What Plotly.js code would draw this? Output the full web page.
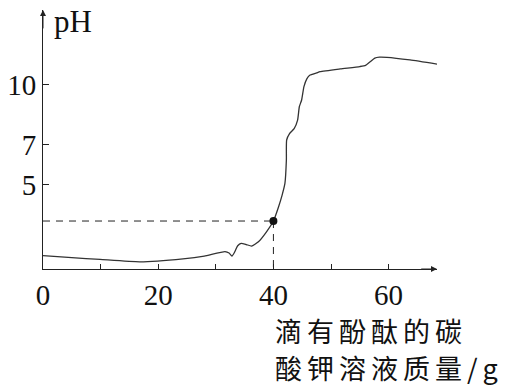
<!DOCTYPE html>
<html>
<head>
<meta charset="utf-8">
<script src="https://cdn.plot.ly/plotly-3.0.1.min.js"></script>
<style>
html,body{margin:0;padding:0;background:#fff;}
#chart{width:508px;height:391px;}
.annotation[data-index="3"] text,.annotation[data-index="4"] text{letter-spacing:5px;}
</style>
</head>
<body>
<div id="chart"></div>
<script>
// pH curve
const massX = [0, 5, 9.9, 16.8, 24.3, 28, 31.6, 32.3, 32.8, 33.3, 33.8, 34.4, 35.3, 36.2, 37.4, 38.8, 40.0, 40.9, 41.5, 42.0, 42.25, 42.3, 42.8, 43.6, 44.2, 44.5, 44.9, 45.3, 45.8, 46.3, 47.5, 48.1, 51.6, 55.0, 56.0, 56.8, 57.6, 58.4, 59.7, 63.7, 68.4];
const phY   = [1.42, 1.32, 1.23, 1.11, 1.26, 1.40, 1.62, 1.55, 1.40, 1.62, 1.92, 2.04, 1.98, 1.90, 2.12, 2.62, 3.16, 3.88, 4.45, 5.05, 6.22, 7.23, 7.55, 7.8, 8.23, 8.90, 9.24, 9.91, 10.3, 10.48, 10.6, 10.66, 10.8, 10.92, 10.98, 11.16, 11.34, 11.39, 11.38, 11.25, 11.04];
const markX = [40];
const markY = [3.16];
const xTickVals = [0, 10, 20, 30, 40, 50, 60];
const xTickText = ['0', '', '20', '', '40', '', '60'];
const yTickVals = [5, 7, 10];
const yTickText = ['5', '7', '10'];
const xTitleLines = ['滴有酚酞的碳', '酸钾溶液质量/g'];
const yTitle = 'pH';

const xRange = [0, 68.4];
const yRange = [0.75, 13.76];

const traces = [
  {x: massX, y: phY, type: 'scatter', mode: 'lines',
   line: {color: '#333', width: 1.3, shape: 'spline', smoothing: 0.5}, hoverinfo: 'none'},
  {x: [xRange[0], markX[0]], y: [markY[0], markY[0]], type: 'scatter', mode: 'lines',
   line: {color: '#222', width: 1, dash: '7px,6px'}, hoverinfo: 'none'},
  {x: [markX[0], markX[0]], y: [markY[0], yRange[0]], type: 'scatter', mode: 'lines',
   line: {color: '#222', width: 1, dash: '7px,6px'}, hoverinfo: 'none'},
  {x: markX, y: markY, type: 'scatter', mode: 'markers',
   marker: {color: '#111', size: 8}, hoverinfo: 'none'}
];

const serif = 'Liberation Serif';
const tickFont = {family: serif, size: 29, color: '#111'};
const cjkFont = {family: 'Noto Sans CJK SC', size: 27, color: '#111'};

const layout = {
  width: 508, height: 391,
  margin: {l: 43, r: 71, t: 10, b: 122, pad: 0},
  paper_bgcolor: '#fff', plot_bgcolor: '#fff',
  showlegend: false,
  font: {family: serif},
  xaxis: {range: xRange, showgrid: false, zeroline: false, showline: true,
    linecolor: '#222', linewidth: 1, ticks: 'inside', ticklen: 5, tickcolor: '#222',
    tickvals: xTickVals, ticktext: xTickText, tickfont: tickFont, fixedrange: true},
  yaxis: {range: yRange, showgrid: false, zeroline: false, showline: true,
    linecolor: '#222', linewidth: 1, ticks: 'inside', ticklen: 6, tickcolor: '#222',
    tickvals: yTickVals, ticktext: yTickText, tickfont: tickFont, fixedrange: true},
  annotations: [
    {x: xRange[1], y: yRange[0], ax: xRange[1] - 3, ay: yRange[0], xref: 'x', yref: 'y', axref: 'x', ayref: 'y',
     text: '', showarrow: true, arrowhead: 2, arrowsize: 1.2, arrowwidth: 1, arrowcolor: '#222', standoff: 0},
    {x: xRange[0], y: yRange[1], ax: xRange[0], ay: yRange[1] - 1, xref: 'x', yref: 'y', axref: 'x', ayref: 'y',
     text: '', showarrow: true, arrowhead: 2, arrowsize: 1.2, arrowwidth: 1, arrowcolor: '#222', standoff: 0},
    {x: 0.022, y: 0.955, xref: 'paper', yref: 'paper', xanchor: 'left', yanchor: 'middle',
     text: yTitle, showarrow: false, font: {family: serif, size: 31, color: '#111'}},
    {x: 0.622, y: -0.236, xref: 'paper', yref: 'paper', xanchor: 'left', yanchor: 'middle',
     text: xTitleLines[0], showarrow: false, font: cjkFont},
    {x: 0.634, y: -0.381, xref: 'paper', yref: 'paper', xanchor: 'left', yanchor: 'middle',
     text: xTitleLines[1], showarrow: false, font: cjkFont}
  ]
};

Plotly.newPlot('chart', traces, layout, {staticPlot: true, displayModeBar: false});
</script>
</body>
</html>
